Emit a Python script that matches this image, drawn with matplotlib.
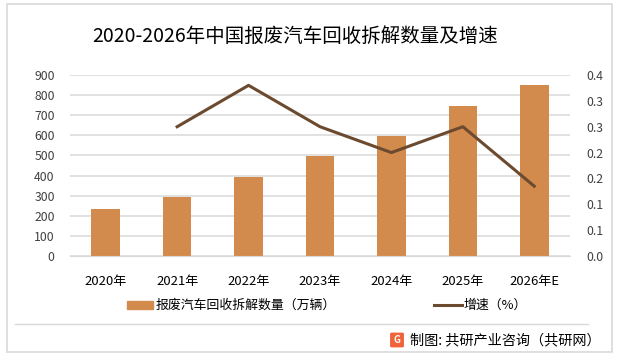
import matplotlib
matplotlib.use('Agg')
import matplotlib.pyplot as plt
from matplotlib.patches import Rectangle, FancyBboxPatch
from matplotlib.lines import Line2D

plt.rcParams['font.family'] = ['Noto Sans CJK SC', 'DejaVu Sans']

''' data read off the picture '''

years = ['2020年', '2021年', '2022年', '2023年', '2024年', '2025年', '2026年E']
counts = [235, 295, 395, 495, 595, 745, 850]          # 万辆
growth = [None, 0.25, 0.33, 0.25, 0.20, 0.25, 0.135]   # 增速

left_ticks = [0, 100, 200, 300, 400, 500, 600, 700, 800, 900]
right_ticks = [0, 0.05, 0.10, 0.15, 0.20, 0.25, 0.30, 0.35]
right_labels = ['0.0', '0.1', '0.1', '0.2', '0.2', '0.3', '0.3', '0.4']

bar_color = '#D38B4D'
line_color = '#6B4A2F'
grid_color = '#D9D9D9'
text_color = '#404040'

fig = plt.figure(figsize=(6.18, 3.59), dpi=100)

''' frame and separator '''
fig.patches.append(Rectangle((7/618, 7/359), 605/618, 348/359, transform=fig.transFigure,
                             fill=False, edgecolor='#D9D9D9', linewidth=1.2))
fig.lines.append(Line2D([15/618, 588/618], [1 - 324/359, 1 - 324/359], transform=fig.transFigure,
                        color='#D9D9D9', linewidth=1))

ax = fig.add_axes([70/618, 1 - 256/359, 500/618, 181/359])
x = list(range(len(years)))
ax.bar(x, counts, width=0.4, color=bar_color, zorder=2)
ax.set_xlim(-0.5, len(years) - 0.5)
ax.set_ylim(0, 900)
ax.set_yticks(left_ticks)
ax.yaxis.grid(True, color=grid_color, linewidth=1.1, zorder=0)
ax.set_axisbelow(True)
for s in ax.spines.values():
    s.set_visible(False)
ax.spines['bottom'].set_visible(True)
ax.spines['bottom'].set_color(grid_color)
ax.tick_params(axis='both', length=0)
ax.tick_params(axis='y', pad=11, labelsize=8.8, labelcolor=text_color)
ax.set_xticks(x)
ax.set_xticklabels(years, fontsize=9.4, color='black')
ax.tick_params(axis='x', pad=14)

ax2 = ax.twinx()
gx = [i for i, g in enumerate(growth) if g is not None]
gy = [g for g in growth if g is not None]
ax2.plot(gx, gy, color=line_color, linewidth=2.2, zorder=3)
ax2.set_ylim(0, 0.35)
ax2.set_yticks(right_ticks)
ax2.set_yticklabels(right_labels)
ax2.tick_params(axis='y', length=0, pad=12, labelsize=8.8, labelcolor=text_color)
for s in ax2.spines.values():
    s.set_visible(False)

''' title '''
fig.text(295/618, 1 - 36/359, '2020-2026年中国报废汽车回收拆解数量及增速', ha='center', va='center',
         fontsize=14, color='black')

''' legend '''
fig.patches.append(Rectangle((127/618, 1 - 309/359), 26/618, 8/359, transform=fig.transFigure,
                             color=bar_color))
fig.text(156/618, 1 - 305/359, '报废汽车回收拆解数量（万辆）', ha='left', va='center', fontsize=9.3)
fig.lines.append(Line2D([434/618, 462/618], [1 - 305/359, 1 - 305/359], transform=fig.transFigure,
                        color=line_color, linewidth=2.2))
fig.text(464/618, 1 - 305/359, '增速（%）', ha='left', va='center', fontsize=9.3)

''' footer '''
fig.patches.append(FancyBboxPatch((392/618, 1 - 346/359), 10/618, 12/359, transform=fig.transFigure,
                                  boxstyle='round,pad=0.002', color='#F0643C'))
fig.text(397/618, 1 - 340/359, 'G', ha='center', va='center', fontsize=7, color='white',
         fontweight='bold')
fig.text(410/618, 1 - 340/359, '制图: 共研产业咨询（共研网）', ha='left', va='center', fontsize=10.2)

fig.savefig('out.png', dpi=100)
